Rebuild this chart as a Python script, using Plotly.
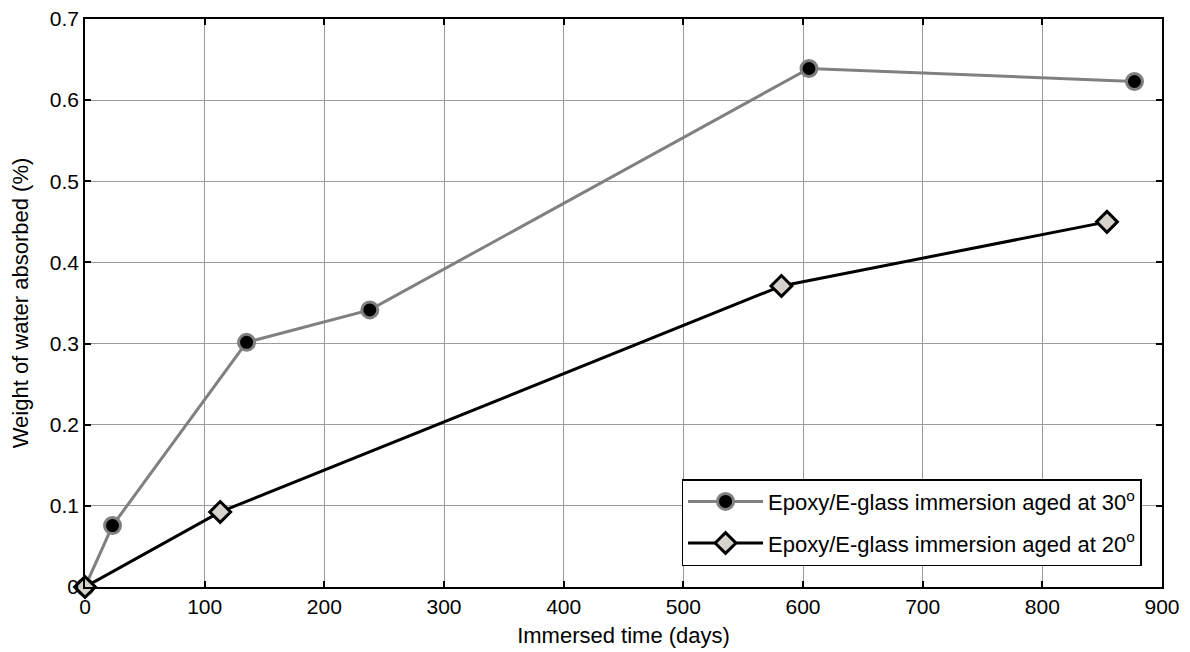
import plotly.graph_objects as go

# Data
days_30 = [0, 23, 135, 238, 605, 877]
weight_30 = [0.0, 0.0757, 0.3015, 0.3415, 0.639, 0.623]
days_20 = [0, 113, 582, 854]
weight_20 = [0.0, 0.0925, 0.371, 0.450]
name_30 = "Epoxy/E-glass immersion aged at 30<sup>o</sup>"
name_20 = "Epoxy/E-glass immersion aged at 20<sup>o</sup>"
x_ticks = [0, 100, 200, 300, 400, 500, 600, 700, 800, 900]
y_ticks = [0, 0.1, 0.2, 0.3, 0.4, 0.5, 0.6, 0.7]
y_tick_labels = ["0", "0.1", "0.2", "0.3", "0.4", "0.5", "0.6", "0.7"]

fig = go.Figure()
fig.add_trace(go.Scatter(
    x=days_30, y=weight_30, name=name_30, mode="lines+markers",
    legendgroup="g30",
    line=dict(color="#808080", width=3),
    marker=dict(symbol="circle", size=16, color="black",
                line=dict(color="#808080", width=3)),
    cliponaxis=False,
))
fig.add_trace(go.Scatter(
    x=days_20, y=weight_20, name=name_20, mode="lines+markers",
    legendgroup="g20",
    line=dict(color="black", width=3),
    marker=dict(symbol="diamond", size=16, color="#d6d3cc",
                line=dict(color="black", width=3)),
    cliponaxis=False,
))

font = "Liberation Sans, Arial, sans-serif"
axis_common = dict(
    showline=True, linecolor="black", linewidth=1.5, mirror="ticks",
    ticks="inside", ticklen=6, tickcolor="black", tickwidth=1.5,
    showgrid=True, gridcolor="#9a9a9a", gridwidth=1,
    zeroline=False, automargin=False, ticklabeloverflow="allow",
    tickfont=dict(family=font, size=21, color="black"),
)
fig.update_xaxes(range=[0, 900], tickvals=x_ticks,
                 title=dict(text="Immersed time (days)", standoff=11,
                            font=dict(family=font, size=22, color="black")),
                 **axis_common)
fig.update_yaxes(range=[0, 0.7], tickvals=y_ticks, ticktext=y_tick_labels,
                 title=dict(text="Weight of water absorbed (%)", standoff=18,
                            font=dict(family=font, size=22, color="black")),
                 **axis_common)

fig.update_layout(
    width=1190, height=652,
    margin=dict(l=77, r=36, t=11, b=73),
    plot_bgcolor="white", paper_bgcolor="white",
    font=dict(family=font, size=21, color="black"),
    legend=dict(x=0.981, y=0.19, xanchor="right", yanchor="top",
                bgcolor="white", bordercolor="black", borderwidth=1.5,
                font=dict(family=font, size=22, color="black"),
                traceorder="grouped", tracegroupgap=10, itemwidth=75),
)

fig.write_html("out.html")
